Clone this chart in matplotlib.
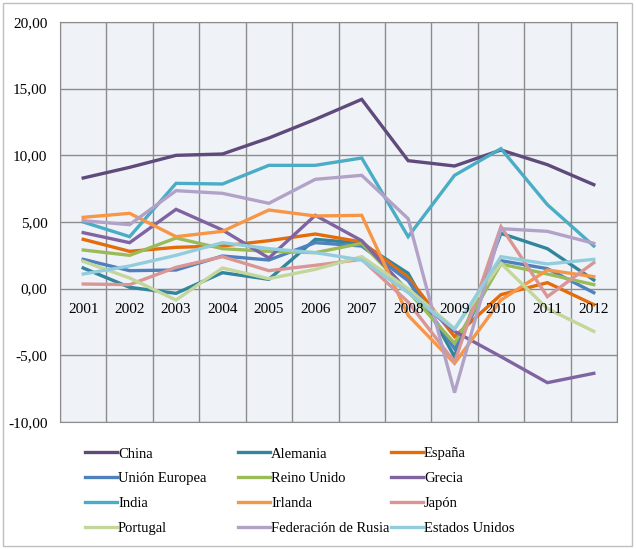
import matplotlib.pyplot as plt
from matplotlib import transforms
from matplotlib.lines import Line2D
from matplotlib.patches import Rectangle

plt.rcParams['font.family'] = ['Liberation Serif', 'DejaVu Serif']

years = ['2001', '2002', '2003', '2004', '2005', '2006',
         '2007', '2008', '2009', '2010', '2011', '2012']

# crecimiento del PIB (%)
china = [8.3, 9.1, 10.0, 10.1, 11.3, 12.7, 14.2, 9.6, 9.2, 10.4, 9.3, 7.8]
alemania = [1.55, 0.1, -0.35, 1.2, 0.7, 3.7, 3.4, 1.15, -5.1, 4.15, 3.0, 0.65]
espana = [3.7, 2.8, 3.1, 3.2, 3.6, 4.1, 3.5, 0.85, -3.6, -0.45, 0.45, -1.2]
union_europea = [2.2, 1.35, 1.4, 2.45, 2.15, 3.45, 3.2, 0.6, -4.5, 2.1, 1.5, -0.3]
reino_unido = [2.9, 2.5, 3.8, 3.0, 2.8, 2.7, 3.4, -0.2, -4.1, 1.85, 1.1, 0.3]
grecia = [4.2, 3.45, 5.95, 4.4, 2.3, 5.5, 3.6, -0.2, -3.2, -5.1, -7.05, -6.35]
india = [5.0, 3.9, 7.9, 7.85, 9.25, 9.25, 9.8, 3.9, 8.5, 10.5, 6.3, 3.2]
irlanda = [5.35, 5.65, 3.9, 4.3, 5.9, 5.45, 5.5, -2.0, -5.6, -0.85, 1.4, 0.9]
japon = [0.35, 0.3, 1.6, 2.4, 1.35, 1.75, 2.2, -1.0, -5.5, 4.65, -0.6, 1.95]
portugal = [2.05, 0.8, -0.85, 1.55, 0.75, 1.45, 2.4, 0.0, -3.0, 1.9, -1.5, -3.2]
rusia = [5.1, 4.8, 7.35, 7.15, 6.4, 8.2, 8.5, 5.25, -7.8, 4.5, 4.3, 3.4]
estados_unidos = [1.1, 1.7, 2.5, 3.45, 3.0, 2.7, 2.15, -0.3, -3.05, 2.4, 1.85, 2.2]

names = ['China', 'Alemania', 'España', 'Unión Europea', 'Reino Unido', 'Grecia',
         'India', 'Irlanda', 'Japón', 'Portugal', 'Federación de Rusia', 'Estados Unidos']
series = [china, alemania, espana, union_europea, reino_unido, grecia,
          india, irlanda, japon, portugal, rusia, estados_unidos]
colors = ['#604A7B', '#31859C', '#E46C0A', '#4F81BD', '#9BBB59', '#8064A2',
          '#4BACC6', '#F79646', '#D99694', '#C3D69B', '#B3A2C7', '#93CDDD']

W, H = 636, 549
fig = plt.figure(figsize=(W / 100, H / 100), dpi=100)
ax = fig.add_axes([60 / W, 1 - 422 / H, 557 / W, 400 / H])
ax.set_facecolor('#EFF3F8')

x = list(range(len(years)))
for vals, col in zip(series, colors):
    ax.plot(x, vals, color=col, lw=2.4, solid_joinstyle='miter')

ax.set_xlim(-0.5, len(years) - 0.5)
ax.set_ylim(-10, 20)
ax.set_yticks([-10, -5, 0, 5, 10, 15, 20])
ax.set_yticklabels([f'{v:.2f}'.replace('.', ',') for v in range(-10, 21, 5)], fontsize=11)
ax.set_xticks([i + 0.5 for i in range(-1, len(years))], minor=False)
ax.set_xticklabels([])
ax.tick_params(length=0)
ax.tick_params(axis='y', pad=9)
ax.grid(True, color='#8C8C8C', lw=1)
ax.set_axisbelow(True)
for s in ax.spines.values():
    s.set_color('#8C8C8C')

# etiquetas de año junto al eje 0
trans = transforms.offset_copy(ax.transData, fig=fig, x=0, y=-10, units='points')
for i, yr in enumerate(years):
    ax.text(i, 0, yr, transform=trans, ha='center', va='top', fontsize=11)

# leyenda en tres columnas de igual anchura
handles = [Line2D([], [], color=c, lw=2.4) for c in colors]
col_x = [78, 231, 384]
for c in range(3):
    idx = list(range(c, 12, 3))
    fig.legend([handles[i] for i in idx], [names[i] for i in idx],
               loc='upper left', bbox_to_anchor=(col_x[c] / W, 1 - 440 / H),
               frameon=False, fontsize=10.5, handlelength=2.2, handletextpad=0.05,
               labelspacing=0.8, borderpad=0)

fig.add_artist(Rectangle((3 / W, 3 / H), 629 / W, 543 / H, transform=fig.transFigure,
                         fill=False, edgecolor='#BFBFBF', lw=1))

fig.savefig('out.png', dpi=100)
